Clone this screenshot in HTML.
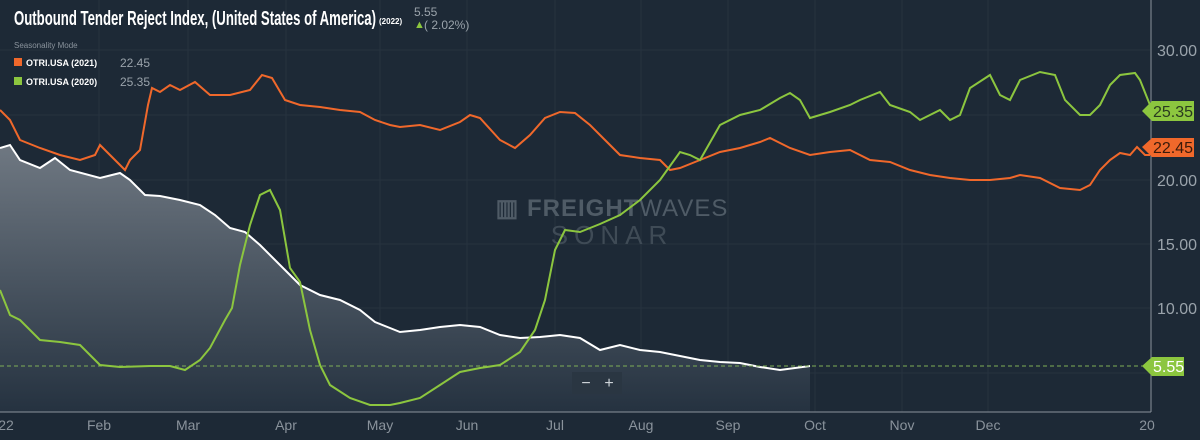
<!DOCTYPE html>
<html><head><style>
body{margin:0;background:#1d2936;width:1200px;height:440px;overflow:hidden;font-family:"Liberation Sans",sans-serif}
</style></head><body>
<svg width="1200" height="440" xmlns="http://www.w3.org/2000/svg" style="position:absolute;left:0;top:0">
<defs><linearGradient id="g" x1="0" y1="0" x2="0" y2="1"><stop offset="0" stop-color="#6f7882"/><stop offset="1" stop-color="#253240"/></linearGradient></defs>
<rect width="1200" height="440" fill="#1d2936"/>
<g stroke="#26333f" stroke-width="1">
<line x1="0" y1="50" x2="1150" y2="50"/><line x1="0" y1="115" x2="1150" y2="115"/><line x1="0" y1="180" x2="1150" y2="180"/><line x1="0" y1="244" x2="1150" y2="244"/><line x1="0" y1="308" x2="1150" y2="308"/><line x1="0" y1="373" x2="1150" y2="373"/>
<line x1="99" y1="0" x2="99" y2="412"/><line x1="188" y1="0" x2="188" y2="412"/><line x1="286" y1="0" x2="286" y2="412"/><line x1="380" y1="0" x2="380" y2="412"/><line x1="467" y1="0" x2="467" y2="412"/><line x1="555" y1="0" x2="555" y2="412"/><line x1="641" y1="0" x2="641" y2="412"/><line x1="728" y1="0" x2="728" y2="412"/><line x1="815" y1="0" x2="815" y2="412"/><line x1="902" y1="0" x2="902" y2="412"/><line x1="988" y1="0" x2="988" y2="412"/>
</g>
<text x="612" y="216" font-size="24" font-weight="bold" fill="#4f5b66" text-anchor="middle" letter-spacing="1">▥ FREIGHT<tspan font-weight="normal">WAVES</tspan></text>
<text x="612" y="244" font-size="26" fill="#3f4b56" text-anchor="middle" letter-spacing="6">SONAR</text>
<polygon fill="url(#g)" points="0,412 0,148 10,145 20,160 40,168 55,158 70,170 100,178 120,173 130,180 145,195 160,196 180,200 200,205 215,215 230,228 245,232 260,245 280,265 290,275 300,285 320,295 340,300 360,310 375,322 390,328 400,332 420,330 440,327 460,325 480,327 500,335 520,338 540,337 560,335 580,338 600,350 620,345 640,350 660,352 680,356 700,360 720,362 740,363 760,367 780,370 795,368 810,366 810,412"/>
<polyline fill="none" stroke="#ffffff" stroke-width="2" points="0,148 10,145 20,160 40,168 55,158 70,170 100,178 120,173 130,180 145,195 160,196 180,200 200,205 215,215 230,228 245,232 260,245 280,265 290,275 300,285 320,295 340,300 360,310 375,322 390,328 400,332 420,330 440,327 460,325 480,327 500,335 520,338 540,337 560,335 580,338 600,350 620,345 640,350 660,352 680,356 700,360 720,362 740,363 760,367 780,370 795,368 810,366"/>
<line x1="0" y1="366" x2="1145" y2="366" stroke="#7fae57" stroke-dasharray="4,3" stroke-width="1"/>
<polyline fill="none" stroke="#f0682b" stroke-width="2" points="0,110 10,120 20,140 40,148 60,155 80,160 95,155 100,145 110,155 120,165 125,170 130,160 140,150 148,105 152,88 160,92 170,85 180,90 195,82 210,95 230,95 250,90 262,75 272,78 285,100 300,105 320,107 340,110 360,112 375,120 390,125 400,127 420,125 440,130 460,122 470,115 480,118 500,140 515,148 530,135 545,118 560,112 575,113 590,125 605,140 620,155 640,158 660,160 670,170 680,168 700,160 720,152 740,148 760,142 770,138 790,148 810,155 830,152 850,150 870,160 890,162 910,170 930,175 950,178 970,180 990,180 1010,178 1020,175 1040,178 1060,188 1080,190 1090,185 1100,170 1110,160 1120,153 1130,155 1137,147 1145,155 1150,155"/>
<polyline fill="none" stroke="#8cc63f" stroke-width="2" points="0,290 10,315 20,320 40,340 60,342 80,345 100,365 120,367 150,366 170,366 185,370 200,360 210,348 225,320 232,308 240,265 250,225 260,195 270,190 280,210 290,268 300,282 310,330 320,365 330,385 350,398 370,405 390,405 400,403 420,398 440,385 460,372 480,368 500,365 520,352 535,330 545,300 555,250 565,230 580,232 600,224 620,215 640,200 660,180 680,152 690,155 700,160 720,125 740,115 760,110 780,98 790,93 800,100 810,118 830,112 850,105 860,100 880,92 890,105 910,112 920,120 940,110 950,120 960,115 970,88 990,75 1000,95 1010,100 1020,80 1040,72 1055,75 1065,100 1080,115 1090,115 1100,105 1110,85 1120,75 1135,73 1140,80 1148,100 1150,105"/>
<line x1="1151" y1="0" x2="1151" y2="412" stroke="#8a939c"/>
<line x1="0" y1="412" x2="1151" y2="412" stroke="#8a939c"/>
<g fill="#9aa3ab" font-size="16">
<text x="1157" y="56">30.00</text><text x="1157" y="186">20.00</text><text x="1157" y="250">15.00</text><text x="1157" y="314">10.00</text>
</g>
<g fill="#8a939c" font-size="14" text-anchor="middle">
<text x="6" y="430">22</text><text x="99" y="430">Feb</text><text x="188" y="430">Mar</text><text x="286" y="430">Apr</text><text x="380" y="430">May</text><text x="467" y="430">Jun</text><text x="555" y="430">Jul</text><text x="641" y="430">Aug</text><text x="728" y="430">Sep</text><text x="815" y="430">Oct</text><text x="902" y="430">Nov</text><text x="988" y="430">Dec</text><text x="1147" y="430">20</text>
</g>
<polygon points="1142,111 1152,101 1194,101 1194,121 1152,121" fill="#8cc63f"/>
<text x="1153" y="117" font-size="16" fill="#2a3a20">25.35</text>
<polygon points="1142,147 1152,138 1194,138 1194,157 1152,157" fill="#f0682b"/>
<text x="1153" y="153" font-size="16" fill="#3a1a0a">22.45</text>
<polygon points="1142,366 1152,357 1184,357 1184,376 1152,376" fill="#8cc63f"/>
<text x="1153" y="372" font-size="16" fill="#ffffff">5.55</text>
<rect x="572" y="372" width="50" height="22" fill="#2a3642"/>
<text x="586" y="388" font-size="16" fill="#cfd5da" text-anchor="middle">−</text>
<text x="609" y="388" font-size="16" fill="#cfd5da" text-anchor="middle">+</text>
<text x="14" y="25" font-size="20" font-weight="bold" fill="#ffffff" textLength="362" lengthAdjust="spacingAndGlyphs">Outbound Tender Reject Index, (United States of America)</text>
<text x="379" y="24" font-size="8" font-weight="bold" fill="#ffffff">(2022)</text>
<text x="414" y="16" font-size="12" fill="#9aa3ab">5.55</text>
<text x="414" y="28" font-size="11" fill="#8cc63f">▲</text>
<text x="424" y="29" font-size="12" fill="#9aa3ab">( 2.02%)</text>
<text x="14" y="48" font-size="8" fill="#8a939c">Seasonality Mode</text>
<rect x="14" y="58" width="8" height="8" fill="#f0682b"/>
<text x="26" y="66" font-size="9" font-weight="bold" fill="#ffffff">OTRI.USA (2021)</text>
<text x="120" y="67" font-size="12" fill="#9aa3ab">22.45</text>
<rect x="14" y="77" width="8" height="8" fill="#8cc63f"/>
<text x="26" y="85" font-size="9" font-weight="bold" fill="#ffffff">OTRI.USA (2020)</text>
<text x="120" y="86" font-size="12" fill="#9aa3ab">25.35</text>
</svg>
</body></html>
